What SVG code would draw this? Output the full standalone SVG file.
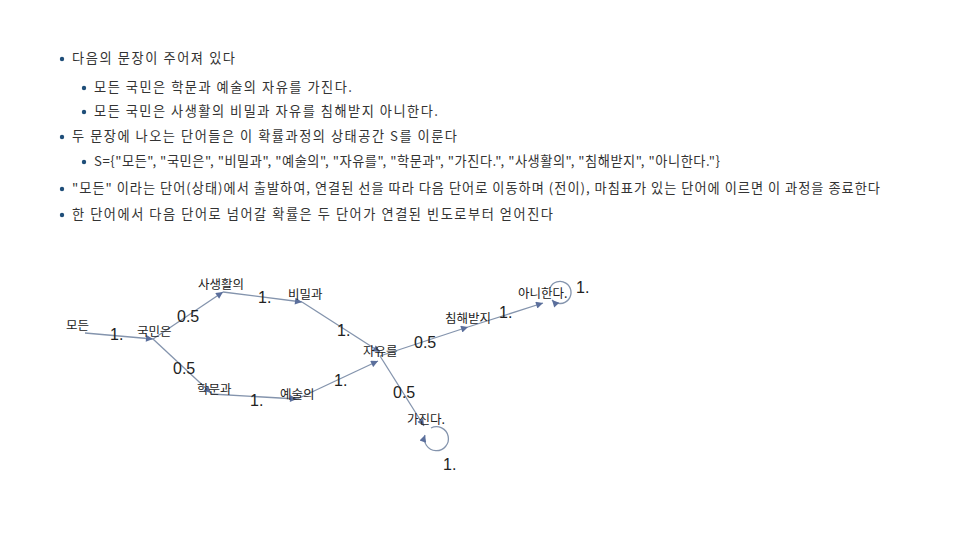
<svg xmlns="http://www.w3.org/2000/svg" width="960" height="540" viewBox="0 0 960 540">
<defs>
<style>
.li{font-family:"Noto Sans CJK KR","Noto Sans",sans-serif;font-size:13.2px;fill:#333}
.bul{fill:#1f4e79}
.nt{font-family:"Noto Sans CJK KR","Liberation Sans",sans-serif;font-size:12.5px;fill:#222}
.el{font-family:"Liberation Sans","Noto Sans CJK KR",sans-serif;font-size:16px;fill:#222}
.ed{fill:none;stroke:#8494ad;stroke-width:1.3;marker-end:url(#ah)}
</style>
<marker id="ah" viewBox="0 0 10 10" refX="10" refY="5" markerWidth="10" markerHeight="7" markerUnits="userSpaceOnUse" orient="auto">
<path d="M0,0 L10,5 L0,10 z" fill="#5b6f9c"/>
</marker>
</defs>
<rect width="960" height="540" fill="#fff"/>
<g id="text-list">
<circle class="bul" cx="62" cy="59" r="2.2"/><text class="li" x="72" y="63" textLength="163" lengthAdjust="spacing">다음의 문장이 주어져 있다</text>
<circle class="bul" cx="84" cy="88" r="2.2"/><text class="li" x="94" y="92" textLength="258" lengthAdjust="spacing">모든 국민은 학문과 예술의 자유를 가진다.</text>
<circle class="bul" cx="84" cy="112" r="2.2"/><text class="li" x="94" y="116" textLength="344" lengthAdjust="spacing">모든 국민은 사생활의 비밀과 자유를 침해받지 아니한다.</text>
<circle class="bul" cx="62" cy="137" r="2.2"/><text class="li" x="72" y="141" textLength="385" lengthAdjust="spacing">두 문장에 나오는 단어들은 이 확률과정의 상태공간 S를 이룬다</text>
<circle class="bul" cx="84" cy="162" r="2.2"/><text class="li" x="94" y="166" textLength="626" lengthAdjust="spacing">S={"모든", "국민은", "비밀과", "예술의", "자유를", "학문과", "가진다.", "사생활의", "침해받지", "아니한다."}</text>
<circle class="bul" cx="62" cy="189" r="2.2"/><text class="li" x="72" y="193" textLength="808" lengthAdjust="spacing">"모든" 이라는 단어(상태)에서 출발하여, 연결된 선을 따라 다음 단어로 이동하며 (전이), 마침표가 있는 단어에 이르면 이 과정을 종료한다</text>
<circle class="bul" cx="62" cy="215" r="2.2"/><text class="li" x="72" y="219" textLength="481" lengthAdjust="spacing">한 단어에서 다음 단어로 넘어갈 확률은 두 단어가 연결된 빈도로부터 얻어진다</text>
</g>
<g id="connectors">
<path class="ed" d="M85,333 L153,339"/>
<path class="ed" d="M153,339 L223,292"/>
<path class="ed" d="M223,292 L302,302"/>
<path class="ed" d="M302,302 L380,352"/>
<path class="ed" d="M153,339 L211,393"/>
<path class="ed" d="M211,394 L297,399"/>
<path class="ed" d="M297,399 L378,361"/>
<path class="ed" d="M380,356 L468,327"/>
<path class="ed" d="M380,356 L424,426"/>
<path class="ed" d="M468,327 L543,303"/>
<path class="ed" d="M550,288 A11,11 0 1 1 552,300"/>
<path class="ed" d="M431,428 A12,12 0 1 1 425,435"/>
<text class="el" x="110" y="340">1.</text>
<text class="el" x="177" y="322">0.5</text>
<text class="el" x="258" y="303">1.</text>
<text class="el" x="337" y="336">1.</text>
<text class="el" x="173" y="374">0.5</text>
<text class="el" x="250" y="406">1.</text>
<text class="el" x="334" y="386">1.</text>
<text class="el" x="414" y="348">0.5</text>
<text class="el" x="393" y="398">0.5</text>
<text class="el" x="499" y="318">1.</text>
<text class="el" x="576" y="293">1.</text>
<text class="el" x="443" y="470">1.</text>
</g>
<g id="n-modeun"><text class="nt" x="66" y="330">모든</text></g>
<g id="n-gukmin"><text class="nt" x="137" y="336">국민은</text></g>
<g id="n-sasaeng"><text class="nt" x="198" y="289">사생활의</text></g>
<g id="n-bimil"><text class="nt" x="288" y="299">비밀과</text></g>
<g id="n-hakmun"><text class="nt" x="197" y="394">학문과</text></g>
<g id="n-yesul"><text class="nt" x="280" y="399">예술의</text></g>
<g id="n-jayu"><text class="nt" x="363" y="356">자유를</text></g>
<g id="n-chimhae"><text class="nt" x="445" y="323">침해받지</text></g>
<g id="n-aniha"><text class="nt" x="518" y="298">아니한다.</text></g>
<g id="n-gajin"><text class="nt" x="407" y="424">가진다.</text></g>
</svg>
